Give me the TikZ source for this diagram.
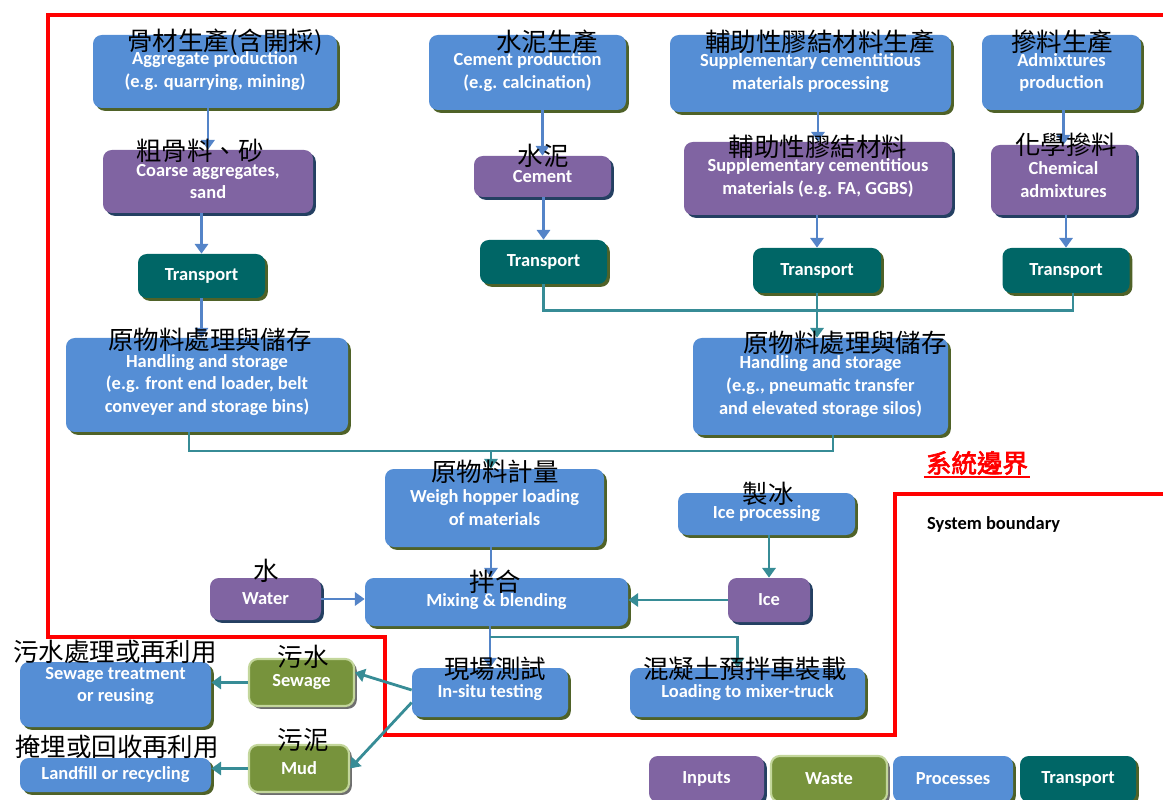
\documentclass[tikz,border=0pt]{standalone}
\usepackage{fontspec}
\setmainfont{Carlito}
\newfontfamily\cjk{Noto Sans CJK TC}
\newfontfamily\cjkbold[FakeBold=2.5]{Noto Sans CJK TC}
\usetikzlibrary{arrows.meta}
\usetikzlibrary{shadows}

\definecolor{procblue}{RGB}{85,142,213}
\definecolor{inpurple}{RGB}{128,100,162}
\definecolor{transteal}{RGB}{0,102,102}
\definecolor{wastegreen}{RGB}{119,147,60}
\definecolor{wasteedge}{RGB}{195,214,155}
\definecolor{shadolive}{RGB}{79,98,40}
\definecolor{shadnavy}{RGB}{36,64,98}
\definecolor{shadgrey}{RGB}{110,110,110}
\definecolor{flowblue}{RGB}{84,132,200}
\definecolor{flowteal}{RGB}{55,140,150}

\tikzset{
    box/.style={rounded corners=5pt, align=center, text=white, inner sep=2pt,
        font=\bfseries\fontsize{10.5}{13}\selectfont},
    sz/.style 2 args={minimum width=#1*0.02cm, minimum height=#2*0.02cm},
    proc/.style={box, fill=procblue,
        drop shadow={shadow xshift=1.6pt, shadow yshift=-1.6pt, fill=shadolive, opacity=1}},
    inp/.style={box, fill=inpurple,
        drop shadow={shadow xshift=1.6pt, shadow yshift=-1.6pt, fill=shadnavy, opacity=1}},
    trans/.style={box, fill=transteal,
        drop shadow={shadow xshift=1.6pt, shadow yshift=-1.6pt, fill=shadolive, opacity=1}},
    waste/.style={box, fill=wastegreen, draw=wasteedge, line width=1.2pt,
        drop shadow={shadow xshift=1.6pt, shadow yshift=-1.6pt, fill=shadgrey, opacity=1}},
    cjklab/.style={font=\cjk\fontsize{14.5}{16}\selectfont, inner sep=0pt},
    flow/.style={draw=flowblue, line width=1.6pt, -{Triangle[width=7.5pt,length=5.5pt]}},
    tflow/.style={draw=flowteal, line width=1.6pt, -{Triangle[width=7.5pt,length=5.5pt]}},
    tline/.style={draw=flowteal, line width=1.6pt},
    boundary/.style={draw=red, line width=1.8pt},
}

\begin{document}
\begin{tikzpicture}[x=0.02cm, y=-0.02cm]
    \useasboundingbox (0,0) rectangle (1163,800);
    \draw[boundary] (1163,15) -- (48,15) -- (48,637) -- (385,637) -- (385,735)
        -- (895,735) -- (895,494) -- (1163,494);

    \node[proc, sz={244}{73}] (agg) at (215,71.5) {Aggregate production\\(e.g. quarrying, mining)};
    \node[proc, sz={197}{75}] (cemp) at (527.5,72.5) {Cement production\\(e.g. calcination)};
    \node[proc, sz={281}{77}] (scmp) at (810.5,73.5) {Supplementary cementitious\\materials processing};
    \node[proc, sz={159}{75}] (admp) at (1061.5,72.5) {Admixtures\\production};

    \node[inp, sz={210}{63}] (coarse) at (208,181.5) {Coarse aggregates,\\sand};
    \node[inp, sz={137}{41}] (cem) at (542.5,176.5) {Cement};
    \node[inp, sz={268}{73}] (scm) at (818,178.5) {Supplementary cementitious\\materials (e.g. FA, GGBS)};
    \node[inp, sz={145}{70}] (chem) at (1063.5,180) {Chemical\\admixtures};

    \node[trans, sz={127}{44}] (t1) at (201.5,276) {Transport};
    \node[trans, sz={127}{44}] (t2) at (543.5,262) {Transport};
    \node[trans, sz={128}{45}] (t3) at (817,270.5) {Transport};
    \node[trans, sz={127}{45}] (t4) at (1066,270.5) {Transport};

    \node[proc, sz={282}{94}] (hl) at (207,385) {Handling and storage\\(e.g. front end loader, belt\\conveyer and storage bins)};
    \node[proc, sz={255}{97}] (hr) at (820.5,386.5) {Handling and storage\\(e.g., pneumatic transfer\\and elevated storage silos)};

    \node[proc, sz={219}{78}] (weigh) at (494.5,508) {Weigh hopper loading\\of materials};
    \node[proc, sz={177}{42}] (icep) at (766.5,514) {Ice processing};
    \node[inp, sz={82}{44}] (ice) at (769,600) {Ice};
    \node[inp, sz={111}{42}] (water) at (265.5,599) {Water};
    \node[proc, sz={263}{48}] (mix) at (496.5,602) {Mixing \& blending};

    \node[proc, sz={156}{49}] (insitu) at (490,692.5) {In-situ testing};
    \node[proc, sz={235}{49}] (load) at (747.5,692.5) {Loading to mixer-truck};
    \node[waste, sz={105}{47}] (sew) at (301.5,682.5) {Sewage};
    \node[waste, sz={100}{47}] (mud) at (299,768.5) {Mud};
    \node[proc, sz={191}{65}] (treat) at (115.5,694.5) {Sewage treatment\\or reusing\\[-1.6pt]~};
    \node[proc, sz={191}{34}] (land) at (115.5,775) {Landfill or recycling};

    \node[inp, sz={115}{46}] (leginp) at (706.5,779) {Inputs};
    \node[waste, sz={116}{46}] (legwaste) at (829,779) {Waste};
    \node[proc, sz={120}{46}] (legproc) at (953,779) {Processes};
    \node[trans, sz={116}{46}] (legtrans) at (1078,779) {Transport};

    \draw[flow] (coarse.north |- agg.south) -- (coarse.north);
    \draw[flow] (t1.north |- coarse.south) -- (t1.north);
    \draw[flow] (t1.south) -- (t1.south |- hl.north);
    \draw[flow] (cem.north |- cemp.south) -- (cem.north);
    \draw[flow] (t2.north |- cem.south) -- (t2.north);
    \draw[flow] (scm.north |- scmp.south) -- (scm.north);
    \draw[flow] (t3.north |- scm.south) -- (t3.north);
    \draw[flow] (chem.north |- admp.south) -- (chem.north);
    \draw[flow] (t4.north |- chem.south) -- (t4.north);
    \draw[tline] (t2.south) -- ++(0,26) -| ([xshift=0.14cm]t4.south);
    \draw[tflow] (t3.south) -- (t3.south |- hr.north);

    \coordinate (bus) at (491,451);
    \draw[tline] ([xshift=-0.36cm]hl.south) |- (bus);
    \draw[tline] ([xshift=0.25cm]hr.south) |- (bus);
    \draw[tflow] (bus) -- (bus |- weigh.north);
    \draw[flow] (bus |- weigh.south) -- (bus |- mix.north);
    \draw[tflow] (ice.north |- icep.south) -- (ice.north);
    \draw[tflow] (ice.west) -- (ice.west -| mix.east);
    \draw[flow] (water.east) -- (water.east -| mix.west);

    \coordinate (split) at (490,637);
    \draw[flow] (insitu.north |- mix.south) -- (insitu.north);
    \draw[tflow] (split) -| ([xshift=-0.2cm]load.north);
    \draw[tflow] ([yshift=0.05cm]insitu.west) -- ([yshift=0.2cm]sew.east);
    \draw[tflow] ([yshift=-0.2cm]insitu.west) -- (mud.east);
    \draw[tflow] (sew.west) -- (sew.west -| treat.east);
    \draw[tflow] (mud.west) -- (mud.west -| land.east);

    \node[cjklab] (aggz) at (225,42) {骨材生產(含開採)};
    \node[cjklab] (cempz) at (547,42) {水泥生產};
    \node[cjklab] (scmpz) at (820,42) {輔助性膠結材料生產};
    \node[cjklab] (admpz) at (1062,42) {摻料生產};
    \node[cjklab] (coarsez) at (200,151) {粗骨料、砂};
    \node[cjklab] (cemz) at (543,156) {水泥};
    \node[cjklab] (scmz) at (818,147) {輔助性膠結材料};
    \node[cjklab] (chemz) at (1066,145) {化學摻料};
    \node[cjklab] (hlz) at (210,340) {原物料處理與儲存};
    \node[cjklab] (hrz) at (845,343) {原物料處理與儲存};
    \node[cjklab] (weighz) at (495,472) {原物料計量};
    \node[cjklab] (icepz) at (768,494) {製冰};
    \node[cjklab] (waterz) at (266,571) {水};
    \node[cjklab] (mixz) at (495,582) {拌合};
    \node[cjklab] (insituz) at (495,669) {現場測試};
    \node[cjklab] (loadz) at (745,669) {混凝土預拌車裝載};
    \node[cjklab] (sewz) at (303,657) {污水};
    \node[cjklab] (mudz) at (303,740) {污泥};
    \node[cjklab] (treatz) at (115,652) {污水處理或再利用};
    \node[cjklab] (landz) at (117,747) {掩埋或回收再利用};

    \node[font=\cjkbold\fontsize{14.5}{16}\selectfont, text=red, inner sep=1pt] (sysz) at (977,463) {系統邊界};
    \draw[red, line width=1.2pt] (sysz.south west) -- (sysz.south east);
    \node[anchor=west, font=\bfseries\fontsize{10.5}{13}\selectfont] (sysb) at (921,524) {System boundary};
\end{tikzpicture}
\end{document}
